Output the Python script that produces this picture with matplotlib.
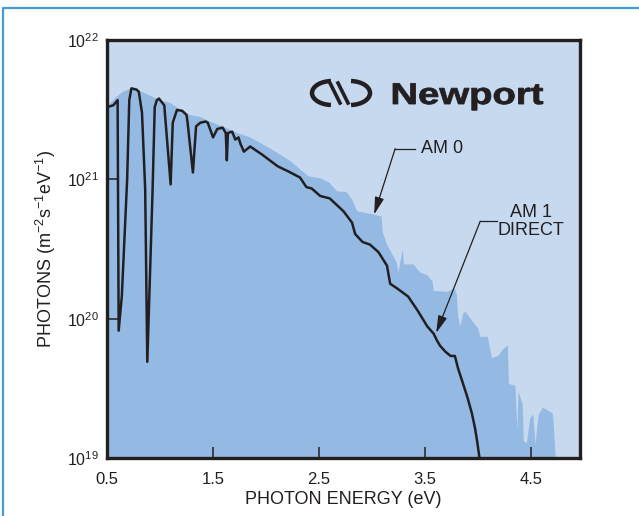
import matplotlib.pyplot as plt
from matplotlib.patches import Arc, PathPatch
from matplotlib.textpath import TextPath
from matplotlib.font_manager import FontProperties
from matplotlib.transforms import Affine2D
from matplotlib.lines import Line2D
from matplotlib.ticker import NullLocator

plt.rcParams['font.family'] = ['Liberation Sans', 'DejaVu Sans']
plt.rcParams['mathtext.fontset'] = 'custom'
plt.rcParams['mathtext.rm'] = 'Liberation Sans'
plt.rcParams['mathtext.it'] = 'Liberation Sans:italic'

# AM 0 spectrum (filled envelope)
am0_ev = [0.50, 0.58, 0.65, 0.72, 0.83, 0.93, 1.00, 1.09, 1.17, 1.28, 1.38, 1.47,
          1.59, 1.73, 1.85, 1.97, 2.10, 2.23, 2.32, 2.40, 2.51, 2.60, 2.67, 2.76,
          2.81, 2.86, 3.01, 3.09, 3.10, 3.14, 3.19, 3.23, 3.25, 3.26, 3.29, 3.30,
          3.34, 3.39, 3.45, 3.52, 3.57, 3.58, 3.71, 3.78, 3.80, 3.81, 3.83, 3.86,
          3.88, 3.95, 4.00, 4.02, 4.09, 4.13, 4.19, 4.24, 4.28, 4.29, 4.35, 4.37,
          4.38, 4.42, 4.43, 4.46, 4.49, 4.52, 4.54, 4.57, 4.61, 4.70, 4.71, 4.73,
          4.74]
am0_photons = [3.3e21, 3.85e21, 4.25e21, 4.45e21, 4.25e21, 3.9e21, 3.7e21, 3.55e21,
               3.25e21, 2.9e21, 2.8e21, 2.6e21, 2.4e21, 2.15e21, 2.0e21, 1.78e21,
               1.56e21, 1.35e21, 1.18e21, 1.05e21, 1.02e21, 9.4e20, 8.2e20, 8.1e20,
               7.2e20, 5.9e20, 5.6e20, 5.4e20, 4.2e20, 3.4e20, 2.9e20, 2.55e20,
               2.15e20, 2.4e20, 3.15e20, 2.45e20, 2.45e20, 2.45e20, 2.15e20, 2.05e20,
               1.85e20, 1.58e20, 1.56e20, 1.64e20, 1.46e20, 1.05e20, 8.8e19, 1.09e20,
               1.12e20, 9.5e19, 8.5e19, 7.4e19, 7.4e19, 5.2e19, 5.4e19, 6.1e19,
               6.4e19, 3.4e19, 3.3e19, 1.58e19, 3.0e19, 2.4e19, 1.32e19, 1.28e19,
               1.93e19, 2.05e19, 1.24e19, 2.05e19, 2.3e19, 2.1e19, 1.84e19, 1.03e19,
               1e18]

# AM 1 direct
am1_ev = [0.50, 0.56, 0.60, 0.61, 0.64, 0.69, 0.71, 0.73, 0.78, 0.80, 0.83, 0.86,
          0.88, 0.93, 0.95, 0.97, 0.99, 1.02, 1.04, 1.10, 1.12, 1.16, 1.21, 1.25,
          1.26, 1.31, 1.34, 1.38, 1.43, 1.45, 1.50, 1.54, 1.59, 1.62, 1.63, 1.64,
          1.68, 1.71, 1.74, 1.76, 1.77, 1.79, 1.85, 1.96, 2.11, 2.21, 2.32, 2.38,
          2.43, 2.51, 2.60, 2.73, 2.81, 2.84, 2.91, 2.98, 3.06, 3.14, 3.17, 3.24,
          3.34, 3.43, 3.52, 3.58, 3.61, 3.64, 3.69, 3.74, 3.78, 3.81, 3.85, 3.90,
          3.94, 3.97, 3.99, 4.01, 4.02]
am1_photons = [3.3e21, 3.4e21, 3.7e21, 8.2e19, 1.46e20, 1.0e21, 3.7e21, 4.5e21,
               4.4e21, 4.25e21, 3.0e21, 8.5e20, 4.9e19, 8.5e20, 3.3e21, 3.7e21,
               3.8e21, 3.55e21, 3.4e21, 9.2e20, 2.55e21, 3.15e21, 3.1e21, 2.9e21,
               2.55e21, 1.12e21, 2.4e21, 2.55e21, 2.6e21, 2.55e21, 2.0e21, 2.3e21,
               2.35e21, 2.15e21, 1.37e21, 2.15e21, 2.2e21, 1.93e21, 2.0e21, 1.78e21,
               1.72e21, 1.58e21, 1.72e21, 1.51e21, 1.24e21, 1.14e21, 1.03e21, 8.8e20,
               8.6e20, 7.6e20, 7.3e20, 5.9e20, 4.9e20, 4.05e20, 3.55e20, 3.4e20,
               3.0e20, 2.4e20, 1.78e20, 1.64e20, 1.44e20, 1.14e20, 8.8e19, 7.8e19,
               7.0e19, 6.4e19, 5.8e19, 5.4e19, 5.4e19, 4.4e19, 3.55e19, 2.7e19,
               2.1e19, 1.64e19, 1.32e19, 1.03e19, 9.0e18]

xticks = [0.5, 1.5, 2.5, 3.5, 4.5]
xtick_labels = ['0.5', '1.5', '2.5', '3.5', '4.5']

LIGHT = '#c6d9ef'
MID = '#94bae4'
INK = '#231f20'
BORDER = '#4a9ad2'

W, H = 639, 516
fig = plt.figure(figsize=(W / 100, H / 100), dpi=100)
fig.patch.set_facecolor('white')

# pixel -> figure transform for the decorations
pix = Affine2D().scale(1 / W, 1 / H) + fig.transFigure

# thin blue page border (left and top only)
fig.lines.append(Line2D([3, 3, W + 5], [-5, H - 8, H - 8], color=BORDER, lw=1.6,
                        transform=pix, figure=fig))

ax = fig.add_axes([107 / W, 58 / H, 473 / W, 418 / H])
ax.set_facecolor(LIGHT)

ax.fill_between(am0_ev, am0_photons, 1e17, color=MID, lw=0, zorder=1)
ax.plot(am1_ev, am1_photons, color=INK, lw=1.8, zorder=2)

ax.set_yscale('log')
ax.set_xlim(0.5, 4.96)
ax.set_ylim(1e19, 1e22)
ax.set_xticks(xticks)
ax.set_xticklabels(xtick_labels)
ax.set_yticks([1e19, 1e20, 1e21, 1e22])
ax.yaxis.set_minor_locator(NullLocator())
ax.tick_params(direction='in', length=8, width=1.1, color=INK,
               labelsize=11.5, labelcolor=INK)
ax.tick_params(axis='x', pad=10, labelsize=12)
ax.tick_params(axis='y', pad=6)
for s in ax.spines.values():
    s.set_linewidth(2.4)
    s.set_color(INK)
    s.set_zorder(5)

ax.set_xlabel('PHOTON ENERGY (eV)', fontsize=13, color=INK, labelpad=3)
ax.set_ylabel('PHOTONS (m$^{-2}$s$^{-1}$eV$^{-1}$)', fontsize=13, color=INK,
              labelpad=6)

# callouts
arrow = dict(arrowstyle='-|>,head_length=0.75,head_width=0.2', color=INK, lw=0.9,
             shrinkA=0, shrinkB=0, mutation_scale=14)
ax.plot([3.40, 3.217], [1.66e21, 1.66e21], color=INK, lw=0.9, zorder=3)
ax.annotate('', xy=(3.019, 5.6e20), xytext=(3.217, 1.66e21), arrowprops=arrow)
ax.text(3.46, 1.66e21, 'AM 0', fontsize=13, color=INK, ha='left', va='center')

ax.plot([4.18, 4.019], [5.0e20, 5.0e20], color=INK, lw=0.9, zorder=3)
ax.annotate('', xy=(3.604, 7.9e19), xytext=(4.019, 5.0e20), arrowprops=arrow)
ax.text(4.5, 5.0e20, 'AM 1\nDIRECT', fontsize=13, color=INK, ha='center',
        va='center', linespacing=1.05)

# Newport logo: symbol + wordmark
fig.patches.append(Arc((332, 423), 40, 24, theta1=95, theta2=265, lw=3.2,
                       color=INK, transform=pix, figure=fig))
fig.patches.append(Arc((350, 423), 40, 24, theta1=-85, theta2=85, lw=3.2,
                       color=INK, transform=pix, figure=fig))
fig.lines.append(Line2D([330, 340], [433, 413], color=INK, lw=2.6,
                        transform=pix, figure=fig))
fig.lines.append(Line2D([338, 348], [433, 413], color=INK, lw=2.6,
                        transform=pix, figure=fig))

fp = FontProperties(family='Liberation Sans', weight='bold')
tp = TextPath((0, 0), 'Newport', size=30, prop=fp)
ext = tp.get_extents()
word_tr = Affine2D().translate(-ext.x0, 0).scale(150 / ext.width, 1).translate(393, H - 104)
fig.patches.append(PathPatch(tp, facecolor=INK, edgecolor=INK, lw=0.6,
                             transform=word_tr + pix, figure=fig))

fig.savefig('out.png', dpi=100)
